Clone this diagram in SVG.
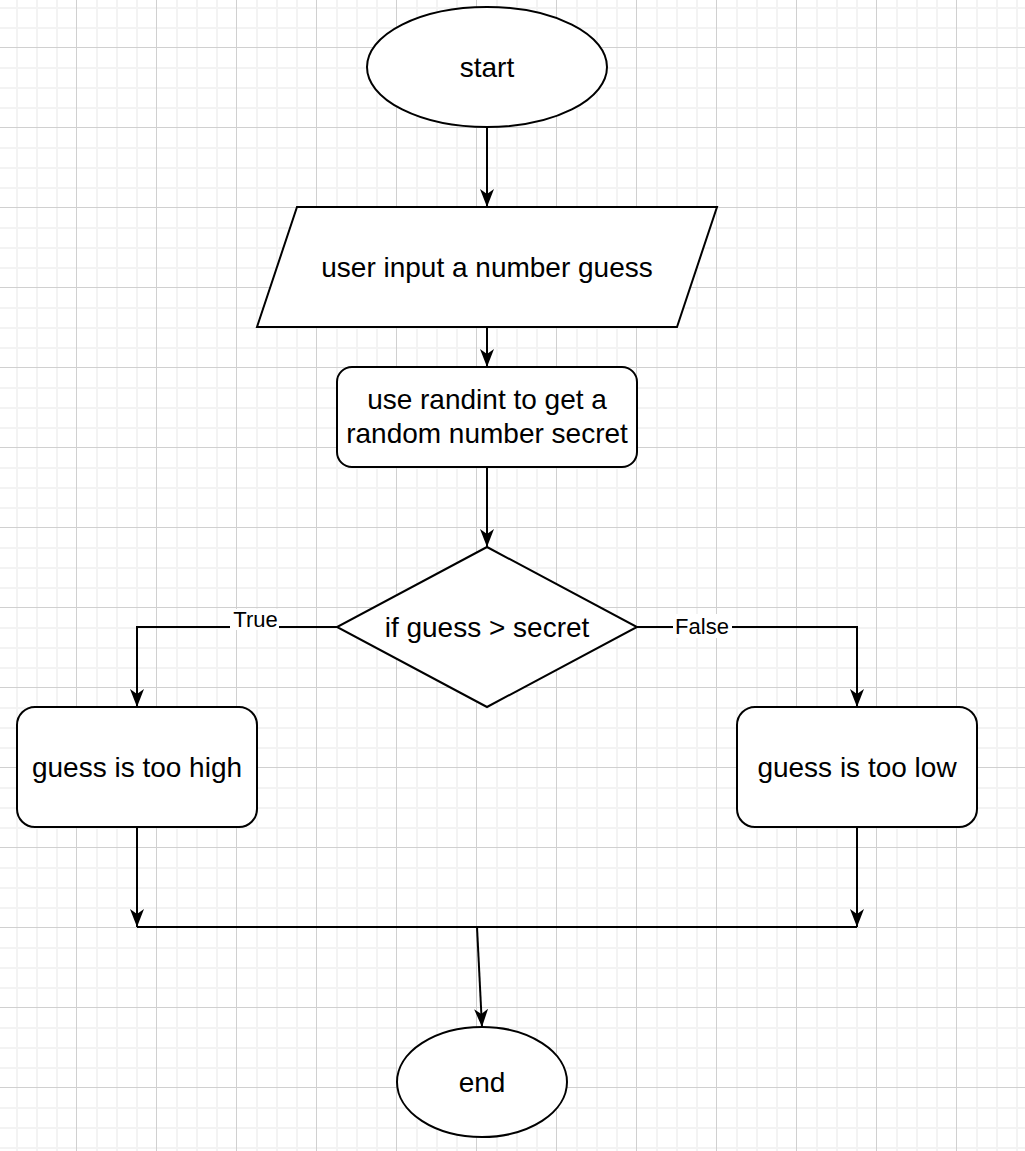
<svg xmlns="http://www.w3.org/2000/svg" width="1025" height="1151" viewBox="0 0 1025 1151">
<defs>
<pattern id="grid" patternUnits="userSpaceOnUse" x="-4" y="-33" width="80" height="80">
<rect x="20" y="0" width="2" height="80" fill="#f3f3f3"/>
<rect x="40" y="0" width="2" height="80" fill="#f3f3f3"/>
<rect x="60" y="0" width="2" height="80" fill="#f3f3f3"/>
<rect x="0" y="20" width="80" height="2" fill="#f3f3f3"/>
<rect x="0" y="40" width="80" height="2" fill="#f3f3f3"/>
<rect x="0" y="60" width="80" height="2" fill="#f3f3f3"/>
<rect x="0" y="0" width="1" height="80" fill="#d0d0d0"/>
<rect x="0" y="0" width="80" height="1" fill="#d0d0d0"/>
</pattern>
<marker id="arrow" markerUnits="userSpaceOnUse" viewBox="0 0 18 14" refX="18" refY="7" markerWidth="18" markerHeight="14" orient="auto">
<path d="M0,0 L18,7 L0,14 L5,7 Z" fill="#000"/>
</marker>
</defs>
<style>
.shape{fill:#fff;stroke:#000;stroke-width:2}
.edge{fill:none;stroke:#000;stroke-width:2}
.lbl{font-family:"Liberation Sans",Arial,sans-serif;font-size:28px;fill:#000;text-anchor:middle}
.elbl{font-family:"Liberation Sans",Arial,sans-serif;font-size:22px;fill:#000;text-anchor:middle}
</style>
<rect x="0" y="0" width="1025" height="1151" fill="#fff"/>
<rect x="0" y="0" width="1025" height="1151" fill="url(#grid)"/>
<g id="connectors">
<path class="edge" d="M487,127 L487,207" marker-end="url(#arrow)"/>
<path class="edge" d="M487,327 L487,367" marker-end="url(#arrow)"/>
<path class="edge" d="M487,467 L487,547" marker-end="url(#arrow)"/>
<path class="edge" d="M337,627 L137,627 L137,707" marker-end="url(#arrow)"/>
<path class="edge" d="M637,627 L857,627 L857,707" marker-end="url(#arrow)"/>
<path class="edge" d="M137,827 L137,927" marker-end="url(#arrow)"/>
<path class="edge" d="M857,827 L857,927" marker-end="url(#arrow)"/>
<path class="edge" d="M137,927 L857,927"/>
<path class="edge" d="M477,927 L482,1027" marker-end="url(#arrow)"/>
<rect x="230" y="609" width="49" height="21" fill="#fff"/>
<text class="elbl" x="255.5" y="627">True</text>
<rect x="673" y="614" width="59" height="24" fill="#fff"/>
<text class="elbl" x="702" y="634">False</text>
</g>
<g id="start">
<ellipse class="shape" cx="487" cy="67" rx="120" ry="60"/>
<text class="lbl" x="487" y="77">start</text>
</g>
<g id="input">
<path class="shape" d="M297,207 L717,207 L677,327 L257,327 Z"/>
<text class="lbl" x="487" y="277">user input a number guess</text>
</g>
<g id="randint">
<rect class="shape" x="337" y="367" width="300" height="100" rx="15" ry="15"/>
<text class="lbl" x="487" y="409">use randint to get a</text>
<text class="lbl" x="487" y="443">random number secret</text>
</g>
<g id="decision">
<path class="shape" d="M487,547 L637,627 L487,707 L337,627 Z"/>
<text class="lbl" x="487" y="637">if guess &gt; secret</text>
</g>
<g id="toohigh">
<rect class="shape" x="17" y="707" width="240" height="120" rx="18" ry="18"/>
<text class="lbl" x="137" y="777">guess is too high</text>
</g>
<g id="toolow">
<rect class="shape" x="737" y="707" width="240" height="120" rx="18" ry="18"/>
<text class="lbl" x="857" y="777">guess is too low</text>
</g>
<g id="end">
<ellipse class="shape" cx="482" cy="1082" rx="85" ry="55"/>
<text class="lbl" x="482" y="1092">end</text>
</g>
</svg>
